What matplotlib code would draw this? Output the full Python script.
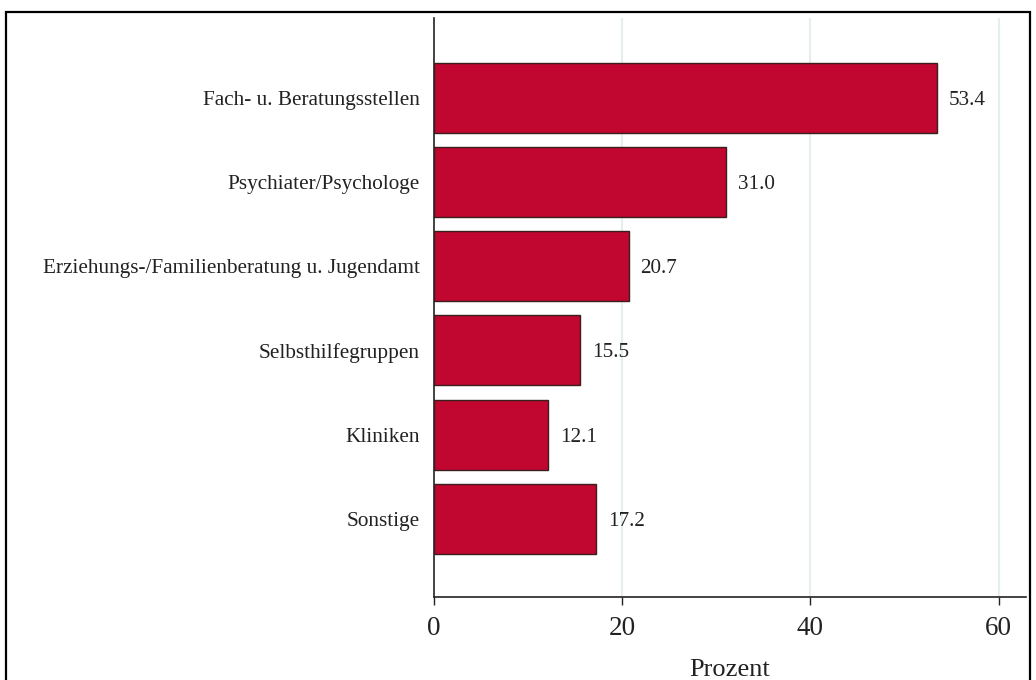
import matplotlib
matplotlib.use("Agg")
import matplotlib.pyplot as plt
from matplotlib.patches import Rectangle

categories = ["Fach- u. Beratungsstellen", "Psychiater/Psychologe",
              "Erziehungs-/Familienberatung u. Jugendamt", "Selbsthilfegruppen",
              "Kliniken", "Sonstige"]
values = [53.4, 31.0, 20.7, 15.5, 12.1, 17.2]
xticks = [0, 20, 40, 60]

plt.rcParams['font.family'] = ['Liberation Serif', 'DejaVu Serif']

fig = plt.figure(figsize=(10.36, 6.8), dpi=100)
ax = fig.add_axes([434/1036, (680-597)/680, (1026-434)/1036, (597-18)/680])

pos = list(range(len(categories)))
ax.barh(pos, values, height=0.83, color="#C1062F", edgecolor="#3a1f1f", linewidth=1.0, zorder=3)
for p, v in zip(pos, values):
    ax.text(v + 1.25, p, f"{v:.1f}", va="center_baseline", ha="left", fontsize=15.2, color="#222222")

ax.set_ylim(5.93, -0.95)
ax.set_xlim(0, 62.9)
ax.set_yticks(pos)
ax.set_yticklabels(categories, fontsize=15.3, color="#222222", va="center_baseline")
ax.tick_params(axis="y", length=0, pad=10)
ax.set_xticks(xticks)
ax.set_xticklabels([str(t) for t in xticks], fontsize=19.5, color="#222222")
ax.tick_params(axis="x", length=6, width=1, pad=8, color="#222222")
ax.set_xlabel("Prozent", fontsize=19, color="#222222", labelpad=13)

for t in xticks[1:]:
    ax.axvline(t, color="#e6eef0", linewidth=1.6, zorder=1)

for s in ["top", "right"]:
    ax.spines[s].set_visible(False)
for s in ["left", "bottom"]:
    ax.spines[s].set_color("#222222")
    ax.spines[s].set_linewidth(1.2)

fig.patches.append(Rectangle((6/1036, -0.05), (1030-6)/1036, (680-12)/680 + 0.05,
                             transform=fig.transFigure, fill=False,
                             edgecolor="black", linewidth=1.6, clip_on=False))

fig.savefig("out.png", dpi=100)
